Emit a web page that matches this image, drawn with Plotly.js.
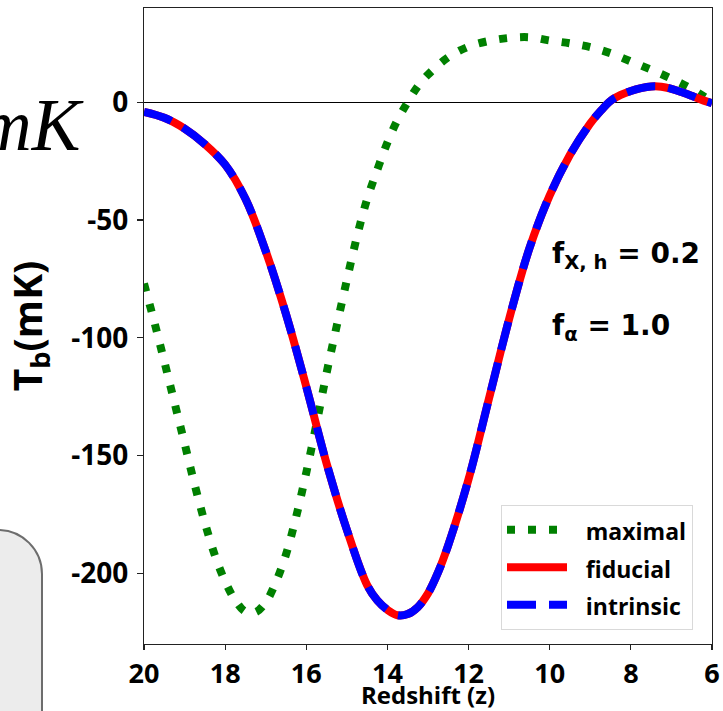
<!DOCTYPE html>
<html><head><meta charset="utf-8">
<script src="https://cdn.plot.ly/plotly-3.0.1.min.js"></script>
<style>html,body{margin:0;padding:0;background:#fff}</style>
</head><body><div id="chart" style="width:723px;height:711px"></div>
<script>
// ---- data ----
const zFiducial = [20, 19.5, 19, 18.5, 18, 17.5, 17, 16.5, 16, 15.5, 15, 14.5, 14.25, 14, 13.75, 13.5, 13.25, 13, 12.75, 12.5, 12, 11.5, 11, 10.5, 10, 9.5, 9, 8.75, 8.5, 8.25, 8, 7.75, 7.5, 7.25, 7, 6.75, 6.5, 6.25, 6];
const tFiducial = [-4.1, -6.6, -11.2, -17.8, -26.5, -41, -63.2, -90, -120.8, -153.3, -181.5, -205, -211.5, -215.5, -217.8, -217.3, -214.3, -208.5, -199.5, -188, -160, -126, -92, -62, -39.5, -22.3, -9, -3.8, 0.6, 3.1, 4.8, 6.0, 6.7, 6.6, 5.7, 4.3, 2.7, 1.0, -0.4];
const zIntrinsic = [20, 19.5, 19, 18.5, 18, 17.5, 17, 16.5, 16, 15.5, 15, 14.5, 14.25, 14, 13.75, 13.5, 13.25, 13, 12.75, 12.5, 12, 11.5, 11, 10.5, 10, 9.5, 9, 8.75, 8.5, 8.25, 8, 7.75, 7.5, 7.25, 7, 6.75, 6.5, 6.25, 6];
const tIntrinsic = [-4.1, -6.6, -11.2, -17.8, -26.5, -41, -63.2, -90, -120.8, -153.3, -181.5, -205, -211.5, -215.5, -217.8, -217.3, -214.3, -208.5, -199.5, -188, -160, -126, -92, -62, -39.5, -22.3, -9, -3.8, 0.6, 3.1, 4.8, 6.0, 6.7, 6.6, 5.7, 4.3, 2.7, 1.0, -0.4];
const zMaximal = [20, 19.75, 19.5, 19.25, 19, 18.75, 18.5, 18.25, 18, 17.75, 17.5, 17.25, 17, 16.75, 16.5, 16.25, 16, 15.75, 15.5, 15.25, 15, 14.75, 14.5, 14.25, 14, 13.75, 13.5, 13.25, 13, 12.5, 12, 11.5, 11, 10.5, 10, 9.5, 9, 8.5, 8, 7.5, 7, 6.5, 6];
const tMaximal = [-77, -93, -110, -127.4, -144.8, -162.4, -178.5, -192.5, -203.4, -211.5, -216.3, -216.5, -212.3, -203.8, -192, -176, -157.2, -136.7, -115, -95, -75.5, -57, -41.1, -28.7, -17.1, -7.5, 0, 6.8, 11.7, 19.1, 23.6, 26.0, 27.3, 27.6, 26.2, 25.0, 23.4, 20.8, 17.3, 13.8, 10.0, 5.6, 0.3];
const seriesNames = ['maximal', 'fiducial', 'intrinsic'];
const xTickVals = [20, 18, 16, 14, 12, 10, 8, 6];
const xTickText = ['20', '18', '16', '14', '12', '10', '8', '6'];
const yTickVals = [0, -50, -100, -150, -200];
const yTickText = ['0', '-50', '-100', '-150', '-200'];
const paramLabels = ['f<sub>X, h</sub> = 0.2', 'f<sub>\u03b1</sub> = 1.0'];
const paramZ = [10, 10];
const paramT = [-65, -95.5];

// ---- drawing ----
const sans = 'Open Sans, Noto Sans, sans-serif';
const tickFont = {family: sans, size: 28, color: '#000', weight: 'bold'};
const legendName = s => '&nbsp;&nbsp;<span style="font-size:23px">' + s + '</span>';
const traces = [
  {x: zMaximal, y: tMaximal, name: legendName(seriesNames[0]), mode: 'lines',
   line: {color: '#008000', width: 8, dash: '8px,13px', shape: 'spline', smoothing: 1}},
  {x: zFiducial, y: tFiducial, name: legendName(seriesNames[1]), mode: 'lines',
   line: {color: '#ff0000', width: 8, shape: 'spline', smoothing: 1}},
  {x: zIntrinsic, y: tIntrinsic, name: legendName(seriesNames[2]), mode: 'lines',
   line: {color: '#0000ff', width: 8, dash: '29px,13px', shape: 'spline', smoothing: 1}}
];
const px = p => (p - 144) / 568;
const py = q => (644 - q) / 636;
const boxPath = 'M' + px(-10) + ',' + py(530) + ' L' + px(-2) + ',' + py(530) +
  ' C' + px(22.3) + ',' + py(530) + ' ' + px(42) + ',' + py(549.7) + ' ' + px(42) + ',' + py(574) +
  ' L' + px(42) + ',' + py(720) + ' L' + px(-10) + ',' + py(720) + ' Z';
const annotations = paramLabels.map((t, i) => ({
  x: paramZ[i], y: paramT[i], xref: 'x', yref: 'y', text: t, showarrow: false,
  xanchor: 'left', yanchor: 'middle',
  font: {family: 'DejaVu Sans', size: 28, color: '#000', weight: 'bold'}
}));
annotations.push({x: px(86), y: py(125), xref: 'paper', yref: 'paper', text: '<i>mK</i>', showarrow: false,
  xanchor: 'right', yanchor: 'middle', font: {family: 'Liberation Serif', size: 73, color: '#000'}});
const layout = {
  width: 723, height: 711,
  margin: {l: 144, r: 11, t: 8, b: 67},
  paper_bgcolor: '#fff', plot_bgcolor: '#fff',
  showlegend: true,
  legend: {x: px(501), y: py(630), xanchor: 'left', yanchor: 'bottom', bgcolor: '#fff',
    bordercolor: '#d9d9d9', borderwidth: 1, itemwidth: 60,
    font: {family: sans, size: 26.5, color: '#000', weight: 'bold'}},
  xaxis: {range: [20, 6], tickmode: 'array', tickvals: xTickVals, ticktext: xTickText,
    ticks: 'outside', ticklen: 5, tickwidth: 1.2, tickcolor: '#222',
    showline: true, linecolor: '#222', linewidth: 1.2, mirror: true, showgrid: false, zeroline: false,
    tickfont: {family: sans, size: 27, color: '#000', weight: 'bold'},
    title: {text: 'Redshift (z)', standoff: 7, font: {family: sans, size: 24, color: '#000', weight: 'bold'}}},
  yaxis: {range: [-230, 40], tickmode: 'array', tickvals: yTickVals, ticktext: yTickText,
    ticks: 'outside', ticklen: 6, tickwidth: 1.2, tickcolor: '#222', ticklabelstandoff: 3,
    showline: true, linecolor: '#222', linewidth: 1.2, mirror: true, showgrid: false,
    zeroline: true, zerolinecolor: '#000', zerolinewidth: 1.2,
    tickfont: tickFont,
    title: {text: 'T<sub>b</sub>(mK)', standoff: 18, font: {family: sans, size: 39, color: '#000', weight: 'bold'}}},
  shapes: [{type: 'path', xref: 'paper', yref: 'paper', path: boxPath,
    fillcolor: '#ececec', line: {color: '#6d6d6d', width: 2}, layer: 'above'}],
  annotations: annotations
};
Plotly.newPlot('chart', traces, layout, {displayModeBar: false, staticPlot: true});
</script>
</body></html>
